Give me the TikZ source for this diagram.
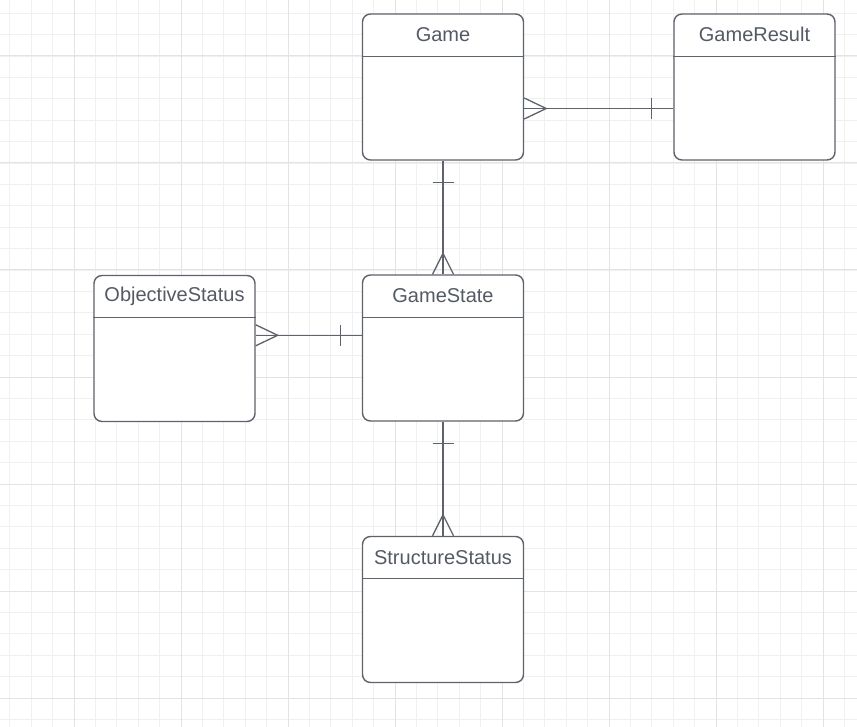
\documentclass[tikz,border=0pt]{standalone}
\usepackage{fontspec}
\setmainfont{Liberation Sans}
\usetikzlibrary{calc}
\definecolor{gridminor}{HTML}{F0F0F0}
\definecolor{gridmajor}{HTML}{E3E3E3}
\definecolor{edge}{HTML}{5E626A}
\definecolor{txt}{HTML}{545A64}
\tikzset{
  entity/.style={draw=edge, line width=1.4pt, rounded corners=8pt, fill=white,
    minimum width=161pt, minimum height=146pt, inner sep=0pt},
  title/.style={text=txt, font=\fontsize{20}{23}\selectfont, inner sep=0pt},
  conn/.style={draw=edge, line width=1.3pt},
}
\begin{document}
\begin{tikzpicture}[x=1pt,y=-1pt]
\fill[white] (0,0) rectangle (857,727);
\useasboundingbox (0,0) rectangle (857,727);
% grid
\foreach \i in {-3,...,36} {
  \pgfmathsetmacro{\xx}{74+21.4*\i}
  \draw[gridminor, line width=0.9pt] (\xx,0) -- (\xx,727);
}
\foreach \i in {-2,...,31} {
  \pgfmathsetmacro{\yy}{56+21.4*\i}
  \draw[gridminor, line width=0.9pt] (0,\yy) -- (857,\yy);
}
\foreach \i in {0,...,7} {
  \pgfmathsetmacro{\xx}{74+107*\i}
  \draw[gridmajor, line width=1pt] (\xx,0) -- (\xx,727);
}
\foreach \i in {0,...,6} {
  \pgfmathsetmacro{\yy}{56+107*\i}
  \draw[gridmajor, line width=1pt] (0,\yy) -- (857,\yy);
}
% entities
\node[entity] (game) at (443,87) {};
\node[entity] (result) at (754.5,87) {};
\node[entity] (state) at (443,348) {};
\node[entity] (objective) at (174.5,348.5) {};
\node[entity] (structure) at (443,609.5) {};
\foreach \n/\t in {game/Game, result/GameResult, state/GameState, objective/ObjectiveStatus, structure/StructureStatus} {
  \coordinate (\n-h) at ($(\n.north)+(0,43)$);
  \draw[conn] (\n-h -| \n.west) -- (\n-h -| \n.east);
  \node[title] (\n-title) at ($(\n.north)!0.5!(\n-h)$) {\t};
  \coordinate (\n-body) at ($(\n-h)!0.5!(\n.south)$);
}
\coordinate (os-link) at ($(objective-h)+(0,17.5)$);
% Game -- GameResult (many to one)
\draw[conn] (game-body -| game.east) -- (result-body -| result.west);
\draw[conn] ($(game-body -| game.east)+(0,-10.5)$) -- ($(game-body -| game.east)+(22,0)$) -- ($(game-body -| game.east)+(0,10.5)$);
\draw[conn] ($(result-body -| result.west)+(-21.5,-10.5)$) -- ($(result-body -| result.west)+(-21.5,10.5)$);
% Game -- GameState
\draw[conn] (game.south) -- (state.north);
\draw[conn] ($(game.south)+(-10.5,21.5)$) -- ($(game.south)+(10.5,21.5)$);
\draw[conn] ($(state.north)+(-10.5,0)$) -- ($(state.north)+(0,-21)$) -- ($(state.north)+(10.5,0)$);
% ObjectiveStatus -- GameState
\draw[conn] (os-link -| objective.east) -- (os-link -| state.west);
\draw[conn] ($(os-link -| objective.east)+(0,-10.5)$) -- ($(os-link -| objective.east)+(22,0)$) -- ($(os-link -| objective.east)+(0,10.5)$);
\draw[conn] ($(os-link -| state.west)+(-21.5,-10.5)$) -- ($(os-link -| state.west)+(-21.5,10.5)$);
% GameState -- StructureStatus
\draw[conn] (state.south) -- (structure.north);
\draw[conn] ($(state.south)+(-10.5,21.5)$) -- ($(state.south)+(10.5,21.5)$);
\draw[conn] ($(structure.north)+(-10.5,0)$) -- ($(structure.north)+(0,-21)$) -- ($(structure.north)+(10.5,0)$);
\end{tikzpicture}
\end{document}
